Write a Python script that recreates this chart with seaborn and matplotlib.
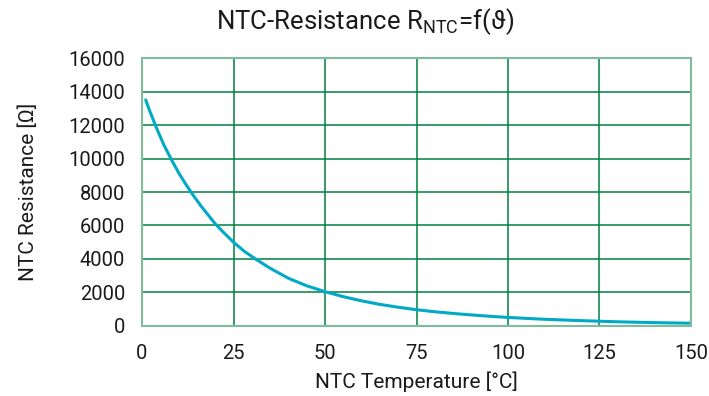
import matplotlib
matplotlib.use("Agg")
import matplotlib.pyplot as plt
import seaborn as sns
import pandas as pd

# values
temperature = [1, 2, 4, 6, 8, 10, 12, 14, 16, 18, 20, 22, 25, 28, 31, 35, 40, 45, 50,
               55, 60, 65, 70, 75, 80, 85, 90, 95, 100, 110, 120, 130, 140, 150]
resistance = [13500, 12900, 11800, 10800, 9950, 9150, 8450, 7800, 7200, 6650, 6100, 5650,
              5000, 4450, 4000, 3450, 2850, 2400, 2050, 1750, 1500, 1290, 1120, 970, 850,
              750, 660, 580, 510, 400, 320, 250, 200, 165]

x_ticks = [0, 25, 50, 75, 100, 125, 150]
y_ticks = [0, 2000, 4000, 6000, 8000, 10000, 12000, 14000, 16000]

df = pd.DataFrame({"T": temperature, "R": resistance})

sns.set_style("white")
plt.rcParams["font.family"] = ["Roboto", "DejaVu Sans"]

fig = plt.figure(figsize=(7.09, 3.96), dpi=100)
ax = fig.add_axes([0.2003, 0.1768, 0.7743, 0.6767])

sns.lineplot(data=df, x="T", y="R", ax=ax, color="#00aac6", linewidth=2.2)

ax.set_xlim(0, 150)
ax.set_ylim(0, 16000)
ax.set_xticks(x_ticks)
ax.set_yticks(y_ticks)
ax.grid(True, color="#00803f", linewidth=1.1)
ax.set_axisbelow(True)
for s in ax.spines.values():
    s.set_color("#80bb9c")
    s.set_linewidth(1.5)
ax.tick_params(length=0, labelsize=14.5, colors="#1a1a1a")
ax.tick_params(axis="x", pad=13)
ax.tick_params(axis="y", pad=12)

ax.set_xlabel("NTC Temperature [°C]", fontsize=15, color="#1a1a1a", labelpad=6)
ax.set_ylabel("NTC Resistance [Ω]", fontsize=15, color="#1a1a1a", labelpad=22)
fig.suptitle("NTC-Resistance R$_{\\mathregular{NTC}}$=f(ϑ)", fontsize=18.5, x=0.515, y=0.985, color="#1a1a1a")

fig.savefig("out.png", dpi=100)
